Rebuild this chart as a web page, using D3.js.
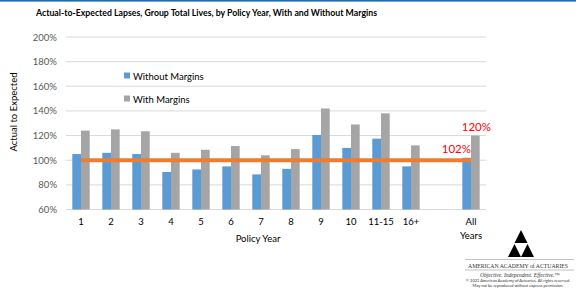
<!DOCTYPE html>
<html>
<head>
<meta charset="utf-8">
<script src="https://cdn.jsdelivr.net/npm/d3@7"></script>
<style>
  body { margin: 0; background: #fff; }
  svg { display: block; font-family: Lato, "Open Sans", sans-serif; }
</style>
</head>
<body>
<div id="chart"></div>
<script>
// chart data
const categories = ["1", "2", "3", "4", "5", "6", "7", "8", "9", "10", "11-15", "16+", "", "All Years"];
const withoutMargins = [105, 106, 105, 90.5, 92.5, 95, 88.5, 93, 120.5, 110, 117.5, 95, null, 102];
const withMargins = [124, 125, 123.5, 106, 108.5, 111.5, 104, 109, 142, 129, 138, 112, null, 120];
const expectedLine = [100, 100, 100, 100, 100, 100, 100, 100, 100, 100, 100, 100, 100, 100];
const yTicks = [60, 80, 100, 120, 140, 160, 180, 200];
const seriesNames = ["Without Margins", "With Margins"];
const callouts = [{ series: 0, label: "102%" }, { series: 1, label: "120%" }];

const colors = { blue: "#5B9BD5", gray: "#A5A5A5", orange: "#ED7D31", grid: "#D9D9D9", text: "#595959" };

const width = 576, height = 288;
const plot = { left: 66, right: 486, top: 37, bottom: 209.5 };

const svg = d3.select("#chart").append("svg")
    .attr("width", width)
    .attr("height", height);

// top rule
svg.append("rect")
    .attr("x", 0).attr("y", 0)
    .attr("width", width).attr("height", 1.6)
    .attr("fill", "#1F6DB2");

// title
svg.append("text")
    .attr("x", 36).attr("y", 16)
    .attr("font-size", 9.5)
    .attr("font-weight", "bold")
    .attr("fill", "#000")
    .attr("textLength", 341)
    .attr("lengthAdjust", "spacingAndGlyphs")
    .text("Actual-to-Expected Lapses, Group Total Lives, by Policy Year, With and Without Margins");

// scales
const x = d3.scaleBand()
    .domain(categories)
    .range([plot.left, plot.right])
    .paddingInner(0.42)
    .paddingOuter(0.21);

const xSub = d3.scaleBand()
    .domain([0, 1])
    .range([0, x.bandwidth()]);

const y = d3.scaleLinear()
    .domain([60, 200])
    .range([plot.bottom, plot.top]);

// gridlines
svg.append("g")
    .selectAll("line")
    .data(yTicks)
    .join("line")
    .attr("x1", plot.left).attr("x2", plot.right)
    .attr("y1", d => y(d)).attr("y2", d => y(d))
    .attr("stroke", colors.grid)
    .attr("stroke-width", 1);

// y axis labels
const yAxis = svg.append("g")
    .attr("transform", `translate(${plot.left},0)`)
    .call(d3.axisLeft(y).tickValues(yTicks).tickSize(0).tickPadding(9).tickFormat(d => d + "%"));
yAxis.select(".domain").remove();
yAxis.selectAll("text")
    .attr("font-family", "Lato, sans-serif")
    .attr("font-size", 9.5)
    .attr("fill", colors.text);

// y axis title
svg.append("text")
    .attr("transform", "translate(17,112) rotate(-90)")
    .attr("text-anchor", "middle")
    .attr("font-size", 9.5)
    .attr("fill", "#000")
    .text("Actual to Expected");

// bars
const series = [withoutMargins, withMargins];
const barColors = [colors.blue, colors.gray];

series.forEach((vals, si) => {
    svg.append("g")
        .selectAll("rect")
        .data(categories.map((c, i) => ({ c, v: vals[i] })).filter(d => d.v != null))
        .join("rect")
        .attr("x", d => x(d.c) + xSub(si))
        .attr("width", xSub.bandwidth())
        .attr("y", d => y(d.v))
        .attr("height", d => y(60) - y(d.v))
        .attr("fill", barColors[si]);
});

// expected line at 100%
const line = d3.line()
    .x((d, i) => x(categories[i]) + x.bandwidth() / 2)
    .y(d => y(d));

svg.append("path")
    .datum(expectedLine)
    .attr("d", line)
    .attr("fill", "none")
    .attr("stroke", colors.orange)
    .attr("stroke-width", 4);

// callout labels for All Years
const lastCat = categories[categories.length - 1];
const lastIdx = categories.length - 1;
svg.append("text")
    .attr("x", x(lastCat) + xSub(0) + xSub.bandwidth())
    .attr("y", y(series[0][lastIdx]) - 5)
    .attr("text-anchor", "end")
    .attr("font-size", 11.5)
    .attr("fill", "#FF0000")
    .text(callouts[0].label);
svg.append("text")
    .attr("x", x(lastCat) + xSub(1) + xSub.bandwidth() / 2 + 1)
    .attr("y", y(series[1][lastIdx]) - 5)
    .attr("text-anchor", "middle")
    .attr("font-size", 11.5)
    .attr("fill", "#FF0000")
    .text(callouts[1].label);

// x axis labels
const xLabels = svg.append("g");
categories.forEach(c => {
    const t = xLabels.append("text")
        .attr("x", x(c) + x.bandwidth() / 2)
        .attr("y", 225)
        .attr("text-anchor", "middle")
        .attr("font-size", 9.5)
        .attr("fill", "#000");
    c.split(" ").forEach((w, k) => {
        t.append("tspan")
            .attr("x", x(c) + x.bandwidth() / 2)
            .attr("dy", k === 0 ? 0 : 14)
            .text(w);
    });
});

svg.append("text")
    .attr("x", 258).attr("y", 242)
    .attr("text-anchor", "middle")
    .attr("font-size", 9.5)
    .attr("fill", "#000")
    .text("Policy Year");

// legend
const legend = svg.append("g").attr("transform", "translate(124,76)");
seriesNames.forEach((name, i) => {
    const g = legend.append("g").attr("transform", `translate(0,${i * 23})`);
    g.append("rect")
        .attr("x", 0).attr("y", -3.5)
        .attr("width", 6).attr("height", 6)
        .attr("fill", barColors[i]);
    g.append("text")
        .attr("x", 9).attr("y", 3.5)
        .attr("font-size", 9.5)
        .attr("fill", "#000")
        .text(name);
});

// logo
const logo = svg.append("g");
const tri = (ax, ay, w, h) => `M${ax},${ay}L${ax + w / 2},${ay + h}L${ax - w / 2},${ay + h}Z`;
logo.append("path").attr("d", tri(521, 230, 13, 13)).attr("fill", "#000");
logo.append("path").attr("d", tri(514.5, 244, 13, 13)).attr("fill", "#000");
logo.append("path").attr("d", tri(527.5, 244, 13, 13)).attr("fill", "#000");
logo.append("line").attr("x1", 465).attr("x2", 574).attr("y1", 259.5).attr("y2", 259.5)
    .attr("stroke", "#999").attr("stroke-width", 0.6);
logo.append("line").attr("x1", 465).attr("x2", 574).attr("y1", 270).attr("y2", 270)
    .attr("stroke", "#999").attr("stroke-width", 0.6);
logo.append("text")
    .attr("x", 518).attr("y", 267.5)
    .attr("text-anchor", "middle")
    .attr("font-family", "Liberation Serif, serif")
    .attr("font-size", 6)
    .attr("fill", "#333")
    .attr("textLength", 100)
    .attr("lengthAdjust", "spacingAndGlyphs")
    .text("AMERICAN ACADEMY of ACTUARIES");
logo.append("text")
    .attr("x", 520).attr("y", 276.5)
    .attr("text-anchor", "middle")
    .attr("font-family", "Liberation Serif, serif")
    .attr("font-style", "italic")
    .attr("font-size", 5.5)
    .attr("fill", "#333")
    .text("Objective. Independent. Effective.\u2122");
logo.append("text")
    .attr("x", 518).attr("y", 282)
    .attr("text-anchor", "middle")
    .attr("font-size", 4)
    .attr("fill", "#333")
    .text("\u00A9 2021 American Academy of Actuaries. All rights reserved.");
logo.append("text")
    .attr("x", 518).attr("y", 287)
    .attr("text-anchor", "middle")
    .attr("font-size", 4)
    .attr("fill", "#333")
    .text("May not be reproduced without express permission.");
</script>
</body>
</html>
